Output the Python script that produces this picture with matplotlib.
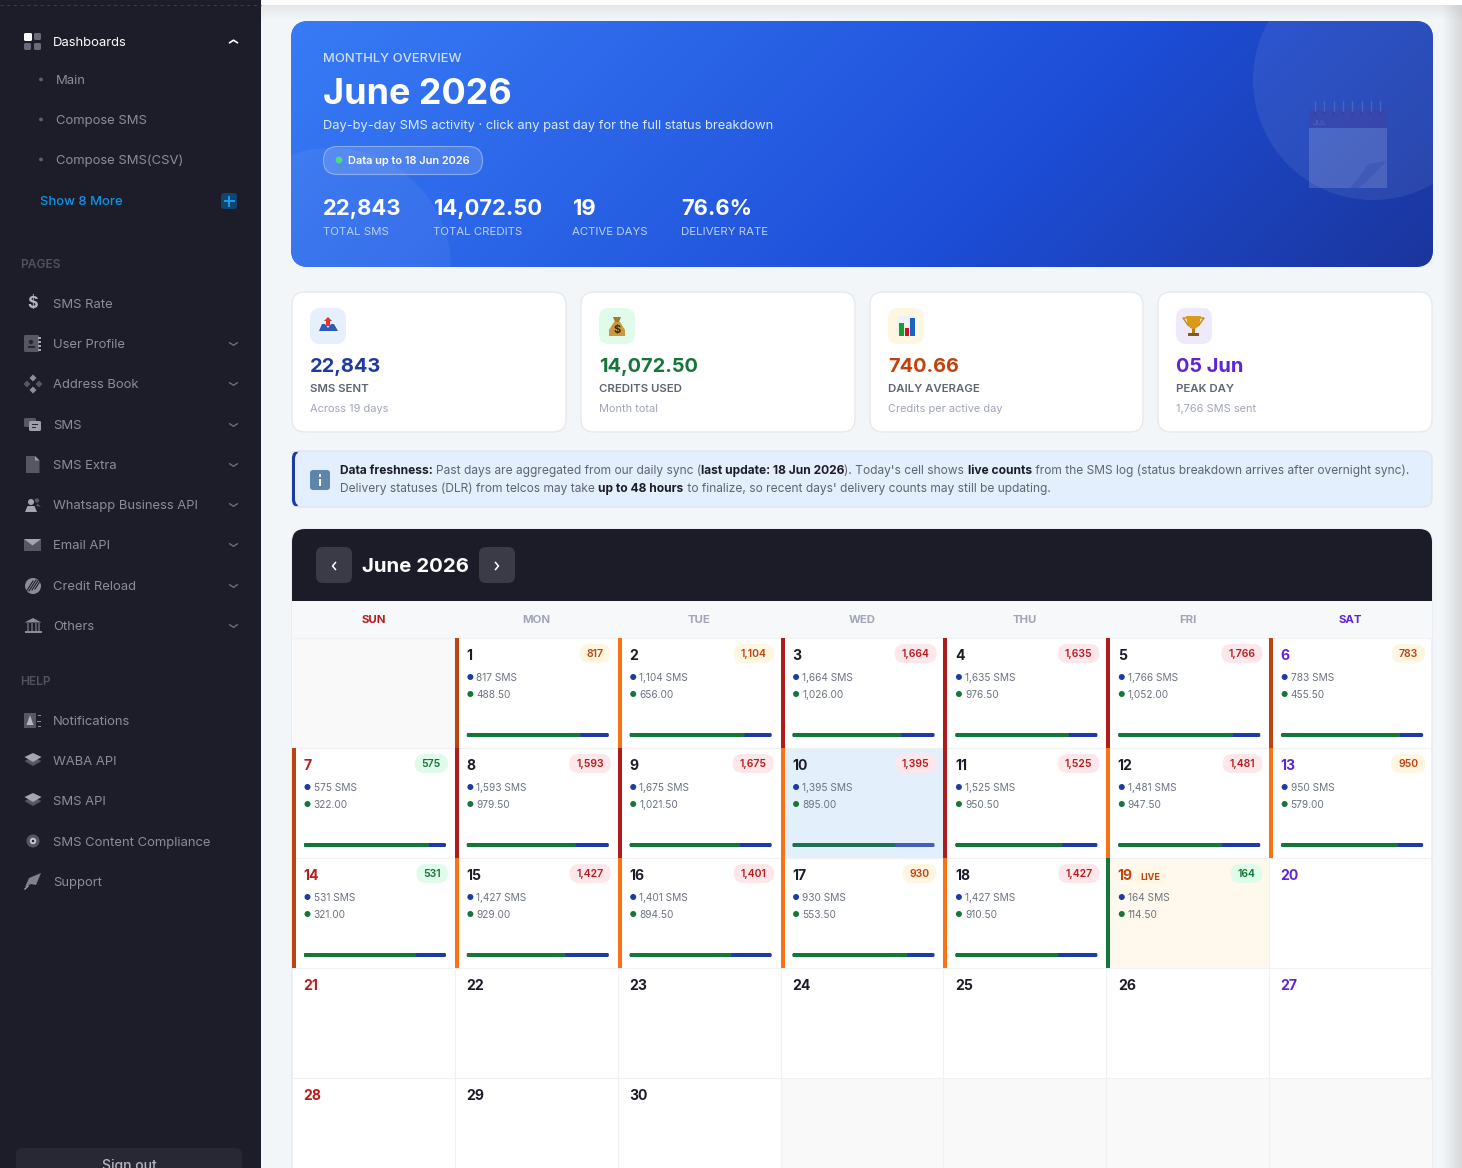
#!/usr/bin/env python
"""Monthly SMS calendar dashboard, June 2026, drawn on one pixel-sized axes."""
import matplotlib

matplotlib.use("Agg")
import matplotlib.pyplot as plt
from matplotlib.patches import Circle, FancyBboxPatch, Polygon, Rectangle
import numpy as np

W, H = 1462, 1168

# sidebar
nav_top = ["Main", "Compose SMS", "Compose SMS(CSV)"]
nav_pages = ["SMS Rate", "User Profile", "Address Book", "SMS", "SMS Extra",
             "Whatsapp Business API", "Email API", "Credit Reload", "Others"]
nav_pages_y = [303, 343, 383, 424, 464, 504, 544, 585, 625]
nav_help = ["Notifications", "WABA API", "SMS API", "SMS Content Compliance", "Support"]
nav_help_y = [720, 760, 800, 841, 881]

# hero
hero_values = ["22,843", "14,072.50", "19", "76.6%"]
hero_labels = ["TOTAL SMS", "TOTAL CREDITS", "ACTIVE DAYS", "DELIVERY RATE"]
hero_x = [323, 433, 572, 681]

# stat cards
card_values = ["22,843", "14,072.50", "740.66", "05 Jun"]
card_labels = ["SMS SENT", "CREDITS USED", "DAILY AVERAGE", "PEAK DAY"]
card_subs = ["Across 19 days", "Month total", "Credits per active day", "1,766 SMS sent"]
card_colors = ["#1e3a9f", "#15763a", "#c2410c", "#5f24d8"]
card_icon_bg = ["#e6f0fc", "#e1fbea", "#fff6e1", "#efe9fc"]

# calendar
weekdays = ["SUN", "MON", "TUE", "WED", "THU", "FRI", "SAT"]
days_in_month = 30
first_weekday = 1
sms = [817, 1104, 1664, 1635, 1766, 783, 575, 1593, 1675, 1395, 1525, 1481, 950,
       531, 1427, 1401, 930, 1427, 164]
credits = [488.50, 656.00, 1026.00, 976.50, 1052.00, 455.50, 322.00, 979.50,
           1021.50, 895.00, 950.50, 947.50, 579.00, 321.00, 929.00, 894.50,
           553.50, 910.50, 114.50]
delivered_share = [0.80, 0.81, 0.767, 0.80, 0.81, 0.838, 0.88, 0.77, 0.776, 0.724,
                   0.754, 0.732, 0.823, 0.788, 0.695, 0.717, 0.809, 0.725]
accent_kind = ["dark", "orange", "red", "red", "red", "dark", "dark", "red", "red",
               "orange", "red", "orange", "orange", "dark", "orange", "orange",
               "orange", "orange", "green"]
accent_colors = {"dark": "#bd4310", "orange": "#f97316", "red": "#b01c1c", "green": "#15763a"}

BLUE, GREEN = "#1e3aa6", "#15763a"
RED, PURPLE, RUST = "#b91c1c", "#5f24d8", "#c2410c"
INK = "#1c1c28"
FONT = "Inter"

fig = plt.figure(figsize=(W / 100, H / 100), dpi=100)
ax = fig.add_axes([0, 0, 1, 1])
ax.axis("off")


def txt(x, y, s, size, color=INK, weight="normal", ha="left", alpha=None):
    """Text whose capitals are centred on y; size is given in pixels."""
    return ax.text(x, y + 0.36 * size, s, fontsize=size * 0.72, color=color,
                   fontweight=weight, ha=ha, va="baseline", family=FONT,
                   alpha=alpha, zorder=10)


def rbox(x0, y0, x1, y1, r, fc, ec="none", lw=0, alpha=None, z=2):
    p = FancyBboxPatch((x0, y0), x1 - x0, y1 - y0, boxstyle=f"round,pad=0,rounding_size={r}",
                       fc=fc, ec=ec, lw=lw, alpha=alpha, zorder=z)
    ax.add_patch(p)
    return p


def rect(x0, y0, x1, y1, fc, alpha=None, z=2):
    p = Rectangle((x0, y0), x1 - x0, y1 - y0, fc=fc, ec="none", alpha=alpha, zorder=z)
    ax.add_patch(p)
    return p


def poly(pts, fc, alpha=None, z=6):
    p = Polygon(pts, closed=True, fc=fc, ec="none", alpha=alpha, zorder=z)
    ax.add_patch(p)
    return p


def dot(x, y, r, fc, alpha=None, z=6):
    p = Circle((x, y), r, fc=fc, ec="none", alpha=alpha, zorder=z)
    ax.add_patch(p)
    return p


def chevron(x, y, up=False, color="#6e6f7c", lw=1.0, w=4, h=2.6):
    s = -1 if up else 1
    ax.plot([x - w, x, x + w], [y - s * h / 2, y + s * h / 2, y - s * h / 2],
            color=color, lw=lw, zorder=6, solid_capstyle="round")


def runs(x, y, parts, size):
    """Mixed regular and bold text on one line, placed one after the other."""
    r = fig.canvas.get_renderer()
    for s, bold in parts:
        t = txt(x, y, s, size, color=INK if bold else "#5e6470", weight="bold" if bold else "normal")
        x += t.get_window_extent(r).width


# --- page background ---
rect(0, 0, W, H, "#f3f6f9", z=0)
shadow = np.zeros((1, 20, 4))
shadow[..., :3] = 0.55
shadow[..., 3] = np.linspace(0.0, 0.28, 20)[None, :]
ax.imshow(shadow, extent=(1442, 1462, H, 0), aspect="auto", zorder=1)
top = np.zeros((16, 1, 4))
top[..., :3] = 0.55
top[..., 3] = np.linspace(0.14, 0, 16)[:, None]
ax.imshow(top, extent=(261, W, 21, 5), aspect="auto", zorder=1)
rect(261, 0, W, 5, "#ffffff", z=1)

# --- sidebar ---
rect(0, 0, 261, H, "#1c1d29", z=1)
ax.plot([0, 261], [4.5, 4.5], color="#3a3b47", lw=0.8, ls=(0, (3, 3)), zorder=2)
MUTED = "#8c8d9b"
ICON = "#565763"
SIDE = 13
txt(53, 41, "Dashboards", SIDE, color="#ffffff")
chevron(233.5, 41.5, up=True, color="#ffffff", lw=1.2)
rbox(24, 33, 32, 41, 1.5, "#ffffff", z=6)
for x0, y0 in [(34, 33), (24, 43), (34, 43)]:
    rbox(x0, y0, x0 + 7, y0 + 7, 1.5, "#6a6b77", z=6)
for s, y in zip(nav_top, [79, 119, 159]):
    dot(41, y + 0.5, 1.9, "#5f606c")
    txt(56, y, s, SIDE, color=MUTED)
txt(40, 200, "Show 8 More", SIDE, color="#0d95e8", weight="medium")
rbox(221, 193, 237, 209, 3, "#0f456f", z=5)
ax.plot([224.5, 233.5], [201, 201], color="#1a9cf0", lw=1.4, zorder=6)
ax.plot([229, 229], [196.5, 205.5], color="#1a9cf0", lw=1.4, zorder=6)

txt(20, 263.5, "PAGES", 12, color="#50515d", weight="semibold")
for s, y in zip(nav_pages, nav_pages_y):
    txt(53, y, s, SIDE, color=MUTED)
    if s != "SMS Rate":
        chevron(233.5, y + 1)
txt(20, 680.5, "HELP", 12, color="#50515d", weight="semibold")
for s, y in zip(nav_help, nav_help_y):
    txt(53, y, s, SIDE, color=MUTED)

# sidebar icons, hand-drawn approximations
ax.text(33, 303.5, "$", fontsize=11.5, color="#b5b6c0", fontweight="bold", ha="center",
        va="center", family=FONT, zorder=6)
rbox(24, 335, 39, 352, 1.5, ICON, z=6)
dot(31, 342, 2.2, "#25262f")
rect(27.5, 345.5, 34.5, 348, "#25262f", z=7)
for yy in [337, 341, 345, 349]:
    rect(38, yy, 41, yy + 2, "#a4a5ad", z=7)
for dx, dy, c in [(0, -6, "#8e8f99"), (-6, 0, ICON), (6, 0, ICON), (0, 6, "#8e8f99")]:
    poly([(33 + dx - 3.5, 384 + dy), (33 + dx, 384 + dy - 3.5),
          (33 + dx + 3.5, 384 + dy), (33 + dx, 384 + dy + 3.5)], c)
rbox(24, 418, 36, 427, 1.5, ICON, z=6)
rbox(29, 421, 41, 431, 1.5, "#9d9ea8", z=7)
rect(32, 424, 38, 425.2, "#25262f", z=8)
rect(32, 426.8, 36, 428, "#25262f", z=8)
poly([(26, 456), (35, 456), (39.5, 460.5), (39.5, 473), (26, 473)], ICON)
poly([(35, 456), (39.5, 460.5), (35, 460.5)], "#9d9ea8", z=7)
dot(31, 502, 3, "#a4a5ad")
poly([(25, 512), (27.5, 506), (34.5, 506), (37, 512)], "#a4a5ad")
dot(37, 500.5, 2.2, ICON)
poly([(36, 506), (37.5, 503.5), (41, 507)], ICON)
rect(24, 539, 41, 551, ICON, z=6)
poly([(24, 539), (41, 539), (32.5, 545.5)], "#a4a5ad", z=7)
dot(33, 586, 8, "#8c8d97")
for k in range(4):
    ax.plot([26 + 3 * k, 33 + 3 * k], [592 - k, 581 - k], color="#1c1d29", lw=0.8, zorder=7)
rect(24.5, 631, 41.5, 633, "#8c8d97", z=6)
poly([(24.5, 622.5), (33, 618), (41.5, 622.5)], "#8c8d97")
for xx in [27, 31, 35, 38]:
    rect(xx, 623, xx + 1.6, 631, ICON, z=6)
rect(24, 713, 36, 728, ICON, z=6)
poly([(26.5, 725), (30, 715), (33.5, 725)], "#b5b6c0", z=7)
for yy, dx in [(715, 0), (720.5, -1), (726, 0)]:
    rect(38 + dx, yy, 41, yy + 1.2, "#8c8d97", z=7)
for yc in [760, 800]:
    poly([(24.5, yc + 1), (33, yc - 3), (41.5, yc + 1), (33, yc + 6)], ICON, z=6)
    poly([(24.5, yc - 3), (33, yc - 7), (41.5, yc - 3), (33, yc + 2)], "#a4a5ad", z=7)
dot(33, 841, 6.5, ICON)
dot(33, 841, 3.2, "#c9cad0", z=7)
dot(33, 841, 1.3, "#25262f", z=8)
poly([(25, 887), (29, 878), (41, 873), (36, 885), (31, 884)], "#80818c")
ax.plot([25, 28], [889, 886], color="#a4a5ad", lw=1, zorder=6)
rbox(16, 1148, 242, 1190, 7, "#272833", z=3)
txt(129, 1165, "Sign out", 14, color="#b5b6c0", ha="center", weight="medium")

# --- hero ---
hero = rbox(291, 21, 1433, 267, 18, "#2257e6", z=2)
yy, xx = np.mgrid[21:267, 291:1433]
t = ((xx - 862) + (yy - 144)) * 0.7071 / ((1142 + 246) * 0.7071) + 0.5
stops = np.array([[0x38, 0x7b, 0xf6], [0x1d, 0x4e, 0xd8], [0x1b, 0x35, 0x9c]]) / 255
grad = np.stack([np.interp(t, [0, 0.62, 1], stops[:, i]) for i in range(3)], axis=-1)
im = ax.imshow(grad, extent=(291, 1433, 267, 21), aspect="auto", zorder=2.5)
im.set_clip_path(hero)
for cx, cy, r, a in [(1373, 80, 120, 0.075), (331, 268, 120, 0.055)]:
    c = dot(cx, cy, r, "#ffffff", alpha=a, z=3)
    c.set_clip_path(hero)
# faded calendar artwork
rect(1309, 128, 1387, 188, "#ffffff", alpha=0.15, z=4)
rect(1309, 110, 1387, 128, "#4a3f9c", alpha=0.4, z=4)
poly([(1350, 188), (1360, 176), (1368, 164), (1387, 161), (1378, 170), (1366, 182), (1358, 188)],
     "#1e3aa0", alpha=0.22, z=5)
for k in range(8):
    ax.plot([1315 + k * 9.3] * 2, [101, 112], color="#4a63bd", lw=1.0, zorder=5)
    dot(1315 + k * 9.3, 113, 1.5, "#2f459f", z=5)
ax.text(1313, 125, "JUL", fontsize=5.5, color="#ffffff", alpha=0.16, family=FONT, zorder=5)

txt(323, 57.5, "MONTHLY OVERVIEW", 13, color="#cfe0fb", weight="medium")
txt(323, 91, "June 2026", 36, color="#ffffff", weight="bold")
txt(323, 124, "Day-by-day SMS activity · click any past day for the full status breakdown", 12.85,
    color="#dce8fd")
rbox(323.5, 146.5, 482.5, 174.5, 14, "#ffffff", ec="none", alpha=0.14, z=4)
rbox(323.5, 146.5, 482.5, 174.5, 14, "none", ec="#a9c2f5", lw=0.8, alpha=0.7, z=4)
dot(339, 160, 3.4, "#4ade80")
txt(348, 160, "Data up to 18 Jun 2026", 11.05, color="#ffffff", weight="semibold")
for x, v, l in zip(hero_x, hero_values, hero_labels):
    txt(x, 207, v, 22, color="#ffffff", weight="bold")
    txt(x, 231, l, 11.5, color="#bcd0f7")

# --- stat cards ---
card_x = [(292, 566), (581, 855), (870, 1143), (1158, 1432)]
for (x0, x1), v, l, s, c, bg in zip(card_x, card_values, card_labels, card_subs, card_colors, card_icon_bg):
    rbox(x0, 292, x1, 432, 13, "#ffffff", ec="#e6e9ed", lw=1, z=2)
    rbox(x0 + 18, 308, x0 + 54, 344, 10, bg, z=3)
    txt(x0 + 18, 365, v, 20, color=c, weight="bold")
    txt(x0 + 18, 388, l, 11.4, color="#5e6470", weight="semibold")
    txt(x0 + 18, 408, s, 11, color="#a1a5b7")

# inbox tray emoji
poly([(324, 321), (328, 317), (332, 321), (330, 321), (330, 326), (326, 326), (326, 321)], "#ee2d2d")
poly([(319, 331), (322, 324), (325, 324), (328, 328), (331, 324), (334, 324), (338, 331)], "#2d5bb8")
rect(319, 331, 338, 336, "#eef0f2", z=6)
# money bag emoji
poly([(613, 317), (621, 317), (619, 322), (615, 322)], "#a9782c")
poly([(614, 322), (620, 322), (625, 330), (625, 336), (609, 336), (609, 330)], "#c99a3c")
ax.text(617, 329.5, "$", fontsize=8, color="#3f2a08", fontweight="bold", ha="center", va="center", family=FONT, zorder=7)
# bar chart emoji
rect(897, 316, 915, 336, "#eef1f5", z=6)
rect(898.5, 323, 903.5, 336, "#14a02e", z=7)
rect(904.5, 328, 908.5, 336, "#c8151b", z=7)
rect(909.5, 318, 914.5, 336, "#1e62c0", z=7)
# trophy emoji
poly([(1186, 316), (1201, 316), (1199, 326), (1195, 329), (1192, 329), (1188, 326)], "#d99a1c")
rect(1192, 329, 1195, 333, "#b57a14", z=6)
rect(1188, 333, 1199, 336, "#8a5a10", z=6)
ax.plot([1186, 1183, 1188], [318, 318, 325], color="#c08916", lw=1, zorder=6)
ax.plot([1201, 1204, 1199], [318, 318, 325], color="#c08916", lw=1, zorder=6)

# --- freshness notice ---
rbox(292, 451, 1432, 507, 9, "#e3effc", ec="#dbe5ef", lw=1, z=2)
rbox(292, 451, 300, 507, 7, "#1e3a9f", z=3)
rbox(295, 452, 304, 506, 7, "#e3effc", z=3)
rbox(310, 470, 330, 490, 3, "#5f86a8", z=4)
rect(319, 474, 321.4, 476.5, "#ffffff", z=5)
rect(319, 478.5, 321.4, 486, "#ffffff", z=5)
fig.canvas.draw()
runs(340, 469.5, [("Data freshness: ", True),
                  ("Past days are aggregated from our daily sync (", False),
                  ("last update: 18 Jun 2026", True),
                  ("). Today's cell shows ", False),
                  ("live counts", True),
                  (" from the SMS log (status breakdown arrives after overnight sync).", False)], 12)
runs(340, 487.5, [("Delivery statuses (DLR) from telcos may take ", False),
                  ("up to 48 hours", True),
                  (" to finalize, so recent days' delivery counts may still be updating.", False)], 12)

# --- calendar ---
rbox(292, 529, 1432, 1230, 13, "#ffffff", ec="#e6e9ed", lw=1, z=2)
rbox(292, 529, 1432, 620, 13, INK, z=3)
rect(292, 601, 1432, 638, "#f7f8fa", z=3)
for x0 in [316, 479]:
    rbox(x0, 547, x0 + 36, 583, 7, "#3a3b46", z=4)
chev_y = 566
ax.plot([335.5, 332.5, 335.5], [chev_y - 3.5, chev_y, chev_y + 3.5], color="#ffffff", lw=1.1, zorder=6)
ax.plot([495.5, 498.5, 495.5], [chev_y - 3.5, chev_y, chev_y + 3.5], color="#ffffff", lw=1.1, zorder=6)
txt(362, 565, "June 2026", 20.4, color="#ffffff", weight="bold")

col_w = 1140 / 7
row_y = [638, 748, 858, 968, 1078, 1188]
for i, d in enumerate(weekdays):
    c = RED if i == 0 else PURPLE if i == 6 else "#a1a5b7"
    txt(292 + col_w * (i + 0.5), 619, d, 11.4, color=c, weight="bold", ha="center")


def cell_pos(day):
    k = day - 1 + first_weekday
    return 292 + (k % 7) * col_w, row_y[k // 7], k % 7


# empty cells outside the month
for k in list(range(first_weekday)) + list(range(first_weekday + days_in_month, 35)):
    rect(292 + (k % 7) * col_w, row_y[k // 7], 292 + (k % 7 + 1) * col_w, row_y[k // 7 + 1], "#f9f9f9", z=3)

rend = fig.canvas.get_renderer()
for day in (10, 19):
    x, y, wd = cell_pos(day)
    rect(x, y, x + col_w, y + 110, "#e3f0fc" if day == 10 else "#fef9ec", z=3)

# grid lines sit above cell fills
for i in range(1, 7):
    ax.plot([292 + col_w * i] * 2, [638, H], color="#eff1f3", lw=0.8, zorder=4)
for yy in row_y[:-1]:
    ax.plot([292, 1432], [yy - 0.5, yy - 0.5], color="#eff1f3", lw=0.8, zorder=4)

for day in range(1, days_in_month + 1):
    x, y, wd = cell_pos(day)
    num_c = RUST if day == 19 else RED if wd == 0 else PURPLE if wd == 6 else INK
    txt(x + 11.5, y + 17, str(day), 14, color=num_c, weight="bold")
    if day > len(sms):
        continue
    n = sms[day - 1]
    rect(x, y, x + 4, y + 109.5, accent_colors[accent_kind[day - 1]], z=5)
    if n < 700:
        bg, fg = "#e1fbea", GREEN
    elif n < 1200:
        bg, fg = "#fff6e1", RUST
    else:
        bg, fg = "#fde7ea", RED
    label = f"{n:,}"
    tb = txt(x + 156 - 7, y + 15.5, label, 10.5, color=fg, weight="semibold", ha="right")
    tw = tb.get_window_extent(rend).width
    rbox(x + 156 - tw - 14, y + 6, x + 156, y + 25, 9.5, bg, z=5)
    dot(x + 15.5, y + 39, 3, BLUE)
    dot(x + 15.5, y + 56, 3, GREEN)
    txt(x + 21.5, y + 39.5, f"{n:,} SMS", 10.1, color="#6b7280")
    txt(x + 21.5, y + 56.5, f"{credits[day - 1]:,.2f}", 10.1, color="#6b7280")
    if day == 19:
        rbox(1136, 870, 1165, 884, 2.5, "#fff6e1", z=5)
        txt(1150.5, 877, "LIVE", 9, color=RUST, weight="bold", ha="center")
    if day <= len(delivered_share):
        share = delivered_share[day - 1]
        a = 0.8 if day == 10 else None
        rbox(x + 12, y + 95, x + 154, y + 99, 1.5, BLUE, alpha=a, z=5)
        rbox(x + 12, y + 95, x + 12 + 142 * share, y + 99, 1.5, GREEN, alpha=a, z=6)

ax.set_xlim(0, W)
ax.set_ylim(H, 0)
fig.savefig("out.png", dpi=100)
